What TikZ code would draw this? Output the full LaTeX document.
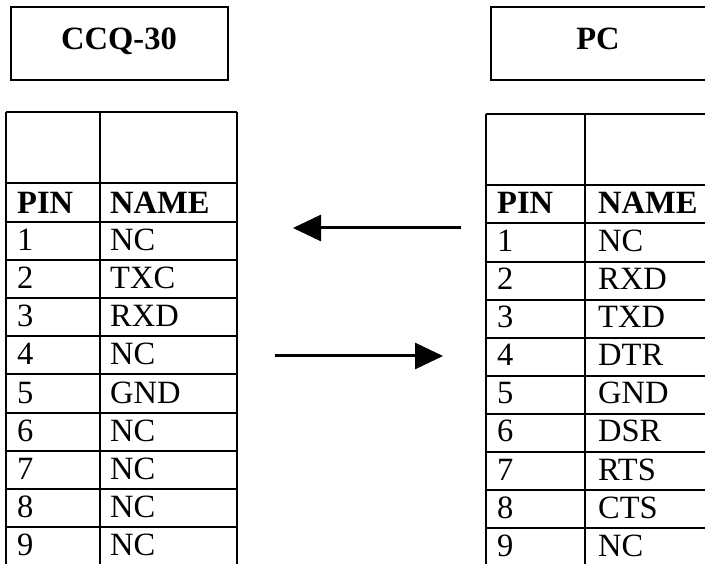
\documentclass[tikz,border=0pt]{standalone}
\usepackage{fontspec}
\setmainfont{Liberation Serif}
\usetikzlibrary{arrows.meta}
\begin{document}
\begin{tikzpicture}[x=1pt,y=-1pt,
  frame/.style={draw,line width=2.2pt,inner sep=0pt},
  grid/.style={line width=2pt},
  cell/.style={anchor=base west,inner sep=0pt,font=\fontsize{32.5}{32.5}\selectfont},
  hdr/.style={anchor=base west,inner sep=0pt,font=\fontsize{32.5}{32.5}\selectfont\bfseries},
  title/.style={anchor=base,inner sep=0pt,font=\fontsize{32.5}{32.5}\selectfont\bfseries},
  link/.style={line width=3pt,-{Triangle[length=28pt,width=26pt]}}]
\useasboundingbox (0,0) rectangle (705,564);
\clip (0,0) rectangle (705,564);
% title boxes
\node[frame,minimum width=217pt,minimum height=73pt] (ccqbox) at (119.5,43.5) {};
\node[title] (ccq) at (119,50) {CCQ-30};
\node[frame,minimum width=230pt,minimum height=73pt] (pcbox) at (606,43.5) {};
\node[title] (pc) at (598,50) {PC};
% left table
\draw[grid] (6,112) -- (237,112);
\draw[grid] (6,183) -- (237,183);
\foreach \k in {0,...,8} \draw[grid] (6,222+38.1*\k) -- (237,222+38.1*\k);
\draw[grid] (6,112) -- (6,600);
\draw[grid] (100,112) -- (100,600);
\draw[grid] (237,112) -- (237,600);
\node[hdr] (lpin) at (17,213.3) {PIN};
\node[hdr] (lname) at (110,213.3) {NAME};
\foreach \n/\s [count=\i from 0] in {1/NC,2/TXC,3/RXD,4/NC,5/GND,6/NC,7/NC,8/NC,9/NC}{
  \node[cell] (lp\n) at (17,250.6+38.1*\i) {\n};
  \node[cell] (ln\n) at (110,250.6+38.1*\i) {\s};
}
% right table
\draw[grid] (486,114) -- (722,114);
\draw[grid] (486,185) -- (722,185);
\foreach \k in {0,...,8} \draw[grid] (486,223.5+38.1*\k) -- (722,223.5+38.1*\k);
\draw[grid] (486,114) -- (486,600);
\draw[grid] (585,114) -- (585,600);
\draw[grid] (722,114) -- (722,600);
\node[hdr] (rpin) at (497,213.8) {PIN};
\node[hdr] (rname) at (598,213.8) {NAME};
\foreach \n/\s [count=\i from 0] in {1/NC,2/RXD,3/TXD,4/DTR,5/GND,6/DSR,7/RTS,8/CTS,9/NC}{
  \node[cell] (rp\n) at (497,251.5+38.1*\i) {\n};
  \node[cell] (rn\n) at (598,251.5+38.1*\i) {\s};
}
% arrows
\coordinate (a1s) at (461,228);
\coordinate (a1e) at (293,228);
\coordinate (a2s) at (275,356);
\coordinate (a2e) at (443,356);
\draw[link] (a1s) -- (a1e);
\draw[link] (a2s) -- (a2e);
\end{tikzpicture}
\end{document}
